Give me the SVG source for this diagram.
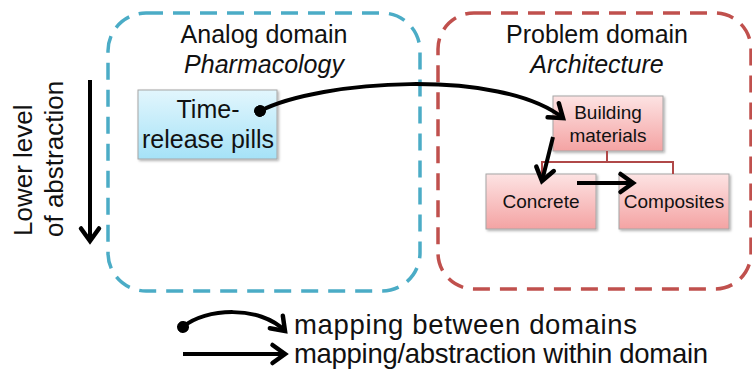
<svg xmlns="http://www.w3.org/2000/svg" width="752" height="373" viewBox="0 0 752 373">
  <style>
    text { font-family: "Liberation Sans", Arial, sans-serif; fill: #111; }
    .title { font-size: 25px; text-anchor: middle; }
    .sub { font-size: 25px; font-style: italic; text-anchor: middle; }
    .big { font-size: 25px; text-anchor: middle; }
    .small { font-size: 19px; text-anchor: middle; }
    .legend { font-size: 27.5px; }
    .side { font-size: 26px; }
    .domain { fill: none; stroke-width: 3.5; stroke-dasharray: 17 10; }
    .box { stroke: #a6a6a6; stroke-width: 1; filter: url(#shadow); }
    .tree { fill: none; stroke: #b04848; stroke-width: 2; }
    .conn { fill: none; stroke: #000; stroke-width: 4; }
  </style>
  <defs>
    <linearGradient id="blueFill" x1="0" y1="0" x2="0" y2="1">
      <stop offset="0" stop-color="#e2f6fd"/>
      <stop offset="1" stop-color="#a5e2f7"/>
    </linearGradient>
    <linearGradient id="pinkFill" x1="0" y1="0" x2="0" y2="1">
      <stop offset="0" stop-color="#fde3e3"/>
      <stop offset="1" stop-color="#f4a3a3"/>
    </linearGradient>
    <filter id="shadow" x="-10%" y="-10%" width="130%" height="130%">
      <feDropShadow dx="1.5" dy="1.5" stdDeviation="1.2" flood-color="#000" flood-opacity="0.3"/>
    </filter>
    <!-- open chevron head, 1 unit = 1 px at stroke width 4 -->
    <marker id="head" viewBox="0 0 24 24" refX="17" refY="12" markerWidth="6" markerHeight="6" orient="auto" markerUnits="strokeWidth" overflow="visible">
      <polyline points="4.5,3 17,12 4.5,21" fill="none" stroke="#000" stroke-width="4.5" stroke-linejoin="miter" stroke-linecap="round"/>
    </marker>
    <marker id="dot" viewBox="0 0 10 10" refX="5" refY="5" markerWidth="3" markerHeight="3" orient="auto" markerUnits="strokeWidth">
      <circle cx="5" cy="5" r="5" fill="#000"/>
    </marker>
  </defs>

  <!-- domain frames -->
  <g id="analog-domain">
    <rect class="domain" x="108" y="13" width="312" height="278" rx="38" stroke="#4bacc6"/>
    <text class="title" x="264" y="43">Analog domain</text>
    <text class="sub" x="264" y="73">Pharmacology</text>
  </g>
  <g id="problem-domain">
    <rect class="domain" x="438" y="13" width="313" height="276" rx="36" stroke="#c0504d"/>
    <text class="title" x="597" y="43">Problem domain</text>
    <text class="sub" x="597" y="73">Architecture</text>
  </g>

  <!-- abstraction axis -->
  <g id="abstraction-axis">
    <text class="side" transform="translate(32,236) rotate(-90)">Lower level</text>
    <text class="side" transform="translate(63,237) rotate(-90)">of abstraction</text>
  </g>

  <!-- nodes -->
  <g id="time-release-pills">
    <rect class="box" x="138" y="90" width="139" height="69" fill="url(#blueFill)"/>
    <text class="big" x="208" y="118">Time-</text>
    <text class="big" x="208" y="148">release pills</text>
  </g>
  <g id="building-materials">
    <rect class="box" x="553" y="96" width="110" height="55" fill="url(#pinkFill)"/>
    <text class="small" x="608" y="119">Building</text>
    <text class="small" x="608" y="142">materials</text>
  </g>
  <g id="concrete">
    <rect class="box" x="486" y="174" width="110" height="55" fill="url(#pinkFill)"/>
    <text class="small" x="541" y="208">Concrete</text>
  </g>
  <g id="composites">
    <rect class="box" x="619" y="174" width="110" height="55" fill="url(#pinkFill)"/>
    <text class="small" x="674" y="208">Composites</text>
  </g>

  <!-- connectors -->
  <g id="connectors">
    <path class="tree" d="M607 151 V162 M542 174 V162 H673 V174"/>
    <path class="conn" d="M260 111 C320 80 500 68 563 118" marker-start="url(#dot)" marker-end="url(#head)"/>
    <path class="conn" d="M553 137 L542 181" marker-end="url(#head)"/>
    <path class="conn" d="M577 183 L633 183" marker-end="url(#head)"/>
    <path class="conn" d="M90 80 L90 241" marker-end="url(#head)"/>
  </g>

  <!-- legend -->
  <g id="legend">
    <path class="conn" d="M183 327 C205 308 260 305 285 331" marker-start="url(#dot)" marker-end="url(#head)"/>
    <path class="conn" d="M183 354 L285 354" marker-end="url(#head)"/>
    <text class="legend" x="294" y="334" textLength="343" lengthAdjust="spacing">mapping between domains</text>
    <text class="legend" x="294" y="363" textLength="414" lengthAdjust="spacing">mapping/abstraction within domain</text>
  </g>
</svg>
